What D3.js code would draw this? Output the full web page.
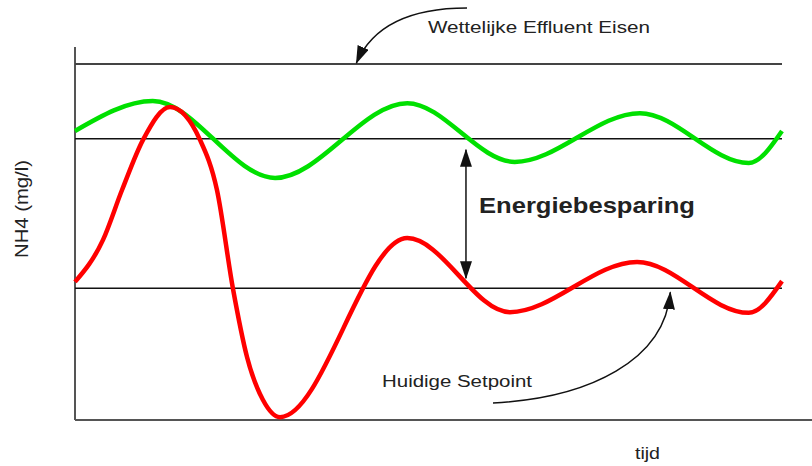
<!DOCTYPE html>
<html>
<head>
<meta charset="utf-8">
<script src="https://cdn.jsdelivr.net/npm/d3@7"></script>
<style>
  body { margin: 0; background: #fff; }
  text { font-family: "Liberation Sans", Arial, sans-serif; fill: #222; }
</style>
</head>
<body>
<script>
const width = 812;
const height = 466;

// levels (NH4, arbitrary units 0..100)
const limitLevel = 100;       // Wettelijke Effluent Eisen
const newSetpoint = 79;       // green setpoint
const currentSetpoint = 37;   // Huidige Setpoint

// time (0..100) and NH4 values
const greenT = [0, 11.0, 28.3, 47.0, 62.2, 79.9, 95.3, 100];
const greenV = [81.2, 89.6, 68.0, 89.0, 72.5, 86.2, 72.2, 81.2];

const redT = [0, 3.96, 6.65, 9.62, 13.44, 17.68, 20.08, 22.35, 24.33, 26.59, 29.0, 47.0, 61.5, 79.5, 95.3, 100];
const redV = [38.8, 50.6, 64.6, 78.7, 87.9, 78.7, 64.6, 36.8, 17.7, 5.6, 0.8, 51.1, 30.3, 44.4, 30.1, 39.0];

const x = d3.scaleLinear([0, 100], [75, 782]);
const y = d3.scaleLinear([0, 100], [420, 64]);

const svg = d3.create("svg")
  .attr("width", width)
  .attr("height", height)
  .attr("viewBox", [0, 0, width, height]);

const defs = svg.append("defs");
defs.append("marker")
  .attr("id", "head")
  .attr("viewBox", "0 -6 18 12")
  .attr("refX", 17)
  .attr("refY", 0)
  .attr("markerWidth", 18)
  .attr("markerHeight", 12)
  .attr("markerUnits", "userSpaceOnUse")
  .attr("orient", "auto-start-reverse")
  .append("path")
  .attr("d", "M0,-6L18,0L0,6Z")
  .attr("fill", "#111");

// axes
svg.append("line")
  .attr("x1", x(0)).attr("x2", x(0))
  .attr("y1", 47).attr("y2", y(0))
  .attr("stroke", "#555").attr("stroke-width", 2);
svg.append("line")
  .attr("x1", x(0)).attr("x2", width)
  .attr("y1", y(0)).attr("y2", y(0))
  .attr("stroke", "#555").attr("stroke-width", 2);

// reference levels
svg.append("g")
  .selectAll("line")
  .data([limitLevel, newSetpoint, currentSetpoint])
  .join("line")
  .attr("x1", x(0)).attr("x2", x(100))
  .attr("y1", d => y(d)).attr("y2", d => y(d))
  .attr("stroke", (d, i) => i === 0 ? "#444" : "#111")
  .attr("stroke-width", (d, i) => i === 0 ? 2 : 1.6);

const line = d3.line()
  .x(d => x(d[0]))
  .y(d => y(d[1]))
  .curve(d3.curveMonotoneX);

svg.append("path")
  .datum(d3.zip(greenT, greenV))
  .attr("fill", "none")
  .attr("stroke", "#00e000")
  .attr("stroke-width", 4.5)
  .attr("stroke-linejoin", "round")
  .attr("d", line);

svg.append("path")
  .datum(d3.zip(redT, redV))
  .attr("fill", "none")
  .attr("stroke", "#ff0000")
  .attr("stroke-width", 4.5)
  .attr("stroke-linejoin", "round")
  .attr("d", line);

// annotations
const ann = svg.append("g").attr("fill", "none").attr("stroke", "#111").attr("stroke-width", 1.5);

// curved arrow to the effluent limit
ann.append("path")
  .attr("d", `M467,8 C420,8 375,20 ${x(39.8)},${y(limitLevel) - 1}`)
  .attr("marker-end", "url(#head)");

// double arrow between setpoints
ann.append("line")
  .attr("x1", x(55.3)).attr("x2", x(55.3))
  .attr("y1", y(newSetpoint) + 11).attr("y2", y(currentSetpoint) - 10)
  .attr("marker-start", "url(#head)")
  .attr("marker-end", "url(#head)");

// curved arrow to the current setpoint
ann.append("path")
  .attr("d", `M493,403 C590,398 665,360 ${x(84.2)},${y(currentSetpoint) + 4}`)
  .attr("marker-end", "url(#head)");

svg.append("text")
  .attr("x", 428).attr("y", 33)
  .attr("font-size", 17)
  .attr("textLength", 222)
  .attr("lengthAdjust", "spacingAndGlyphs")
  .text("Wettelijke Effluent Eisen");

svg.append("text")
  .attr("x", 479).attr("y", 213)
  .attr("font-size", 22)
  .attr("font-weight", "bold")
  .attr("textLength", 216)
  .attr("lengthAdjust", "spacingAndGlyphs")
  .text("Energiebesparing");

svg.append("text")
  .attr("x", 382).attr("y", 387)
  .attr("font-size", 16)
  .attr("textLength", 150)
  .attr("lengthAdjust", "spacingAndGlyphs")
  .text("Huidige Setpoint");

svg.append("text")
  .attr("x", 635).attr("y", 459)
  .attr("font-size", 16)
  .attr("textLength", 25)
  .attr("lengthAdjust", "spacingAndGlyphs")
  .text("tijd");

svg.append("text")
  .attr("transform", "translate(28,209) rotate(-90)")
  .attr("text-anchor", "middle")
  .attr("font-size", 18)
  .attr("textLength", 98)
  .attr("lengthAdjust", "spacingAndGlyphs")
  .text("NH4 (mg/l)");

document.body.appendChild(svg.node());
</script>
</body>
</html>
